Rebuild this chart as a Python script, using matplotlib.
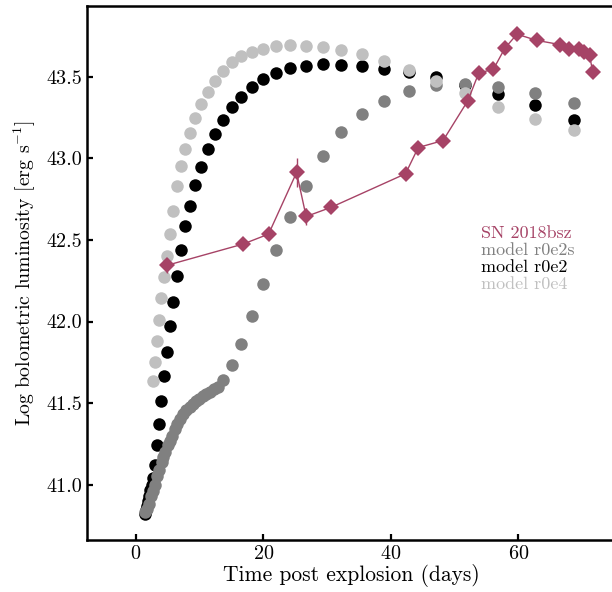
import matplotlib
matplotlib.use('Agg')
import matplotlib.pyplot as plt
import numpy as np

plt.rcParams['font.family'] = 'serif'
plt.rcParams['font.serif'] = ['cmr10', 'DejaVu Serif']
plt.rcParams['mathtext.fontset'] = 'cm'
plt.rcParams['axes.formatter.use_mathtext'] = True

# SN 2018bsz bolometric light curve
sn_t = [4.8, 16.8, 20.8, 25.2, 26.7, 30.6, 42.3, 44.3, 48.2, 52.1, 53.8,
        56.1, 57.9, 59.8, 62.9, 66.6, 68.0, 69.6, 70.4, 71.2, 71.7]
sn_L = [42.344, 42.475, 42.536, 42.914, 42.644, 42.700, 42.906, 43.067, 43.110,
        43.355, 43.524, 43.547, 43.676, 43.762, 43.724, 43.698, 43.670, 43.670,
        43.655, 43.633, 43.529]
sn_err = [0.045, 0.01, 0.01, 0.087, 0.05, 0.01, 0.01, 0.01, 0.01, 0.01, 0.01,
          0.01, 0.01, 0.01, 0.01, 0.01, 0.01, 0.01, 0.01, 0.01, 0.01]

# model r0e2s
r0e2s_t = [1.4, 1.7, 2.0, 2.4, 2.7, 3.0, 3.3, 3.6, 4.0, 4.3, 4.6, 5.0, 5.3, 5.7,
           6.1, 6.5, 6.9, 7.4, 7.9, 8.4, 8.9, 9.4, 9.9, 10.5, 11.0, 11.6, 12.2,
           12.8, 13.65, 15.1, 16.5, 18.2, 20.0, 22.0, 24.2, 26.6, 29.3, 32.2,
           35.4, 38.9, 42.8, 47.1, 51.7, 56.9, 62.6, 68.8]
r0e2s_L = [40.83, 40.85, 40.88, 40.93, 40.96, 41.00, 41.05, 41.09, 41.14, 41.17,
           41.20, 41.24, 41.27, 41.30, 41.34, 41.37, 41.40, 41.43, 41.455, 41.475,
           41.495, 41.51, 41.525, 41.545, 41.555, 41.57, 41.585, 41.60, 41.639,
           41.735, 41.862, 42.036, 42.232, 42.440, 42.640, 42.828, 43.012, 43.165,
           43.273, 43.353, 43.416, 43.451, 43.457, 43.441, 43.400, 43.339]

# model r0e2
r0e2_t = [1.39, 1.52, 1.68, 1.85, 2.03, 2.23, 2.46, 2.70, 2.97, 3.27, 3.60, 3.96,
          4.35, 4.79, 5.27, 5.79, 6.37, 7.01, 7.71, 8.48, 9.33, 10.26, 11.28,
          12.41, 13.65, 15.02, 16.52, 18.17, 19.99, 21.99, 24.19, 26.6, 29.3,
          32.2, 35.4, 38.9, 42.8, 47.1, 51.7, 56.9, 62.6, 68.8]
r0e2_L = [40.82, 40.845, 40.87, 40.90, 40.93, 40.965, 41.00, 41.04, 41.12, 41.24,
          41.37, 41.51, 41.665, 41.81, 41.97, 42.12, 42.28, 42.44, 42.585, 42.71,
          42.838, 42.95, 43.059, 43.149, 43.237, 43.314, 43.379, 43.441, 43.486,
          43.526, 43.553, 43.569, 43.578, 43.575, 43.567, 43.549, 43.529, 43.502,
          43.45, 43.396, 43.327, 43.237]

# model r0e4
r0e4_t = [2.70, 2.97, 3.27, 3.60, 3.96, 4.35, 4.79, 5.27, 5.79, 6.37, 7.01, 7.71,
          8.48, 9.33, 10.26, 11.28, 12.41, 13.65, 15.02, 16.52, 18.17, 19.99,
          21.99, 24.19, 26.6, 29.3, 32.2, 35.4, 38.9, 42.8, 47.1, 51.7, 56.9,
          62.6, 68.8]
r0e4_L = [41.633, 41.749, 41.878, 42.011, 42.142, 42.270, 42.403, 42.536, 42.679,
          42.833, 42.955, 43.059, 43.155, 43.247, 43.335, 43.410, 43.477, 43.539,
          43.590, 43.629, 43.655, 43.672, 43.690, 43.696, 43.692, 43.686, 43.665,
          43.641, 43.598, 43.543, 43.475, 43.404, 43.318, 43.243, 43.175]

sn_col = '#a64366'
labels = ['SN 2018bsz', 'model r0e2s', 'model r0e2', 'model r0e4']
colors = [sn_col, '#808080', 'black', '#c0c0c0']

fig = plt.figure(figsize=(6.12, 5.92), dpi=100)
ax = fig.add_axes([0.1422, 0.0878, 0.8628, 0.9021])

ms = 9
ax.plot(r0e2_t, r0e2_L, 'o', color='black', ms=ms, mew=0)
ax.plot(r0e2s_t, r0e2s_L, 'o', color='#808080', ms=ms, mew=0)
ax.plot(r0e4_t, r0e4_L, 'o', color='#c0c0c0', ms=ms, mew=0)
ax.errorbar(sn_t, sn_L, yerr=sn_err, color=sn_col, marker='D', ms=8, mew=0,
            lw=1.0, elinewidth=1.0, capsize=0)

for i, (lab, c) in enumerate(zip(labels, colors)):
    ax.text(0.746, 0.575 - i * 0.032, lab, color=c, fontsize=13,
            transform=ax.transAxes, va='center', ha='left')

ax.set_xlim(-7.7, 75.2)
ax.set_ylim(40.66, 43.935)
ax.set_xticks([0, 20, 40, 60])
ax.set_yticks([41.0, 41.5, 42.0, 42.5, 43.0, 43.5])
ax.yaxis.set_major_formatter(matplotlib.ticker.FormatStrFormatter('%.1f'))
ax.tick_params(direction='in', length=4, width=1.6, labelsize=14.5,
               top=False, right=False)
for sp in ax.spines.values():
    sp.set_linewidth(1.8)
ax.spines['right'].set_visible(False)

ax.set_xlabel('Time post explosion (days)', fontsize=15.5, labelpad=1)
ax.set_ylabel(r'Log bolometric luminosity [erg s$^{-1}$]', fontsize=14.3,
              labelpad=6)

fig.savefig('out.png', dpi=100)
